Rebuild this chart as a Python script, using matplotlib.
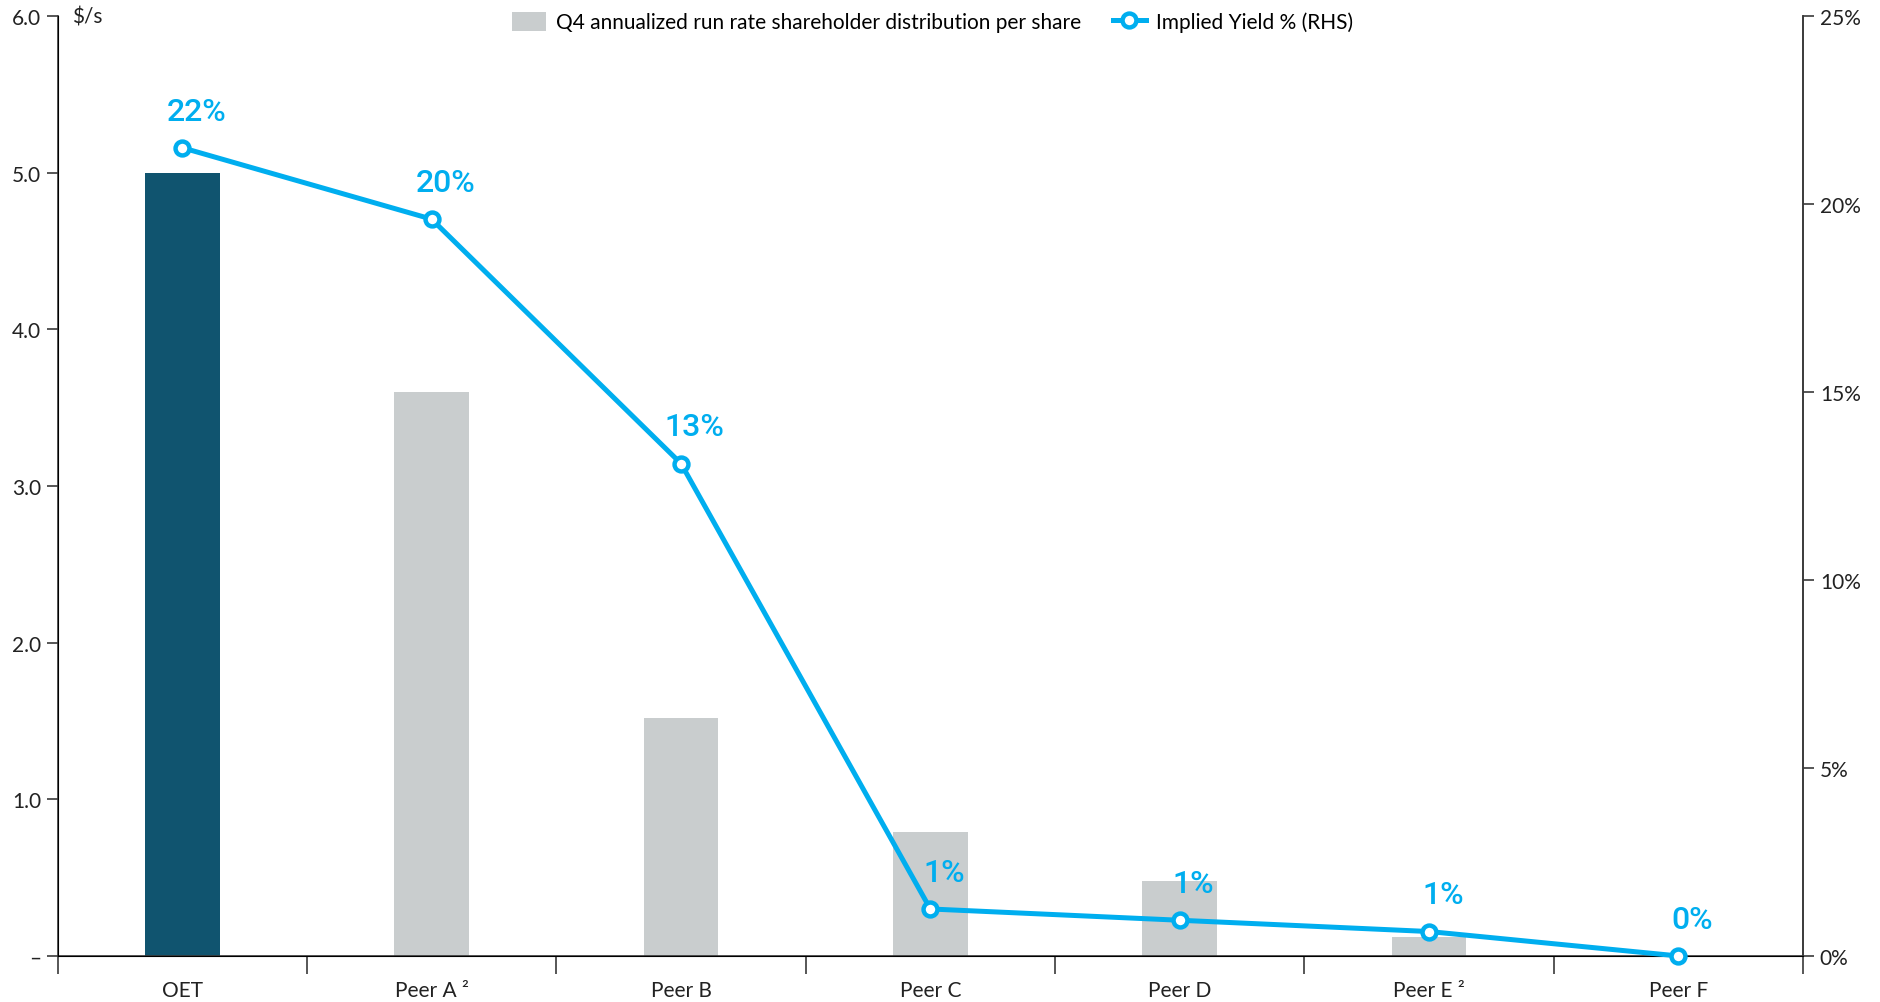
import numpy as np
import matplotlib.pyplot as plt
from matplotlib.lines import Line2D
from matplotlib.patches import Patch

categories = ['OET', 'Peer A ²', 'Peer B', 'Peer C', 'Peer D', 'Peer E ²', 'Peer F']
distribution = [5.0, 3.6, 1.52, 0.79, 0.48, 0.12, 0.0]
yield_pct = [21.5, 19.6, 13.1, 1.25, 0.95, 0.65, 0.0]
yield_labels = ['22%', '20%', '13%', '1%', '1%', '1%', '0%']

plt.rcParams['font.family'] = ['Lato', 'DejaVu Sans']

dark = '#10546f'
grey = '#c9cdce'
blue = '#00aeef'
axis_col = '#3a3a3a'

fig = plt.figure(figsize=(18.81, 10.03), dpi=100)
ax = fig.add_axes([0.0306, 0.0459, 0.928, 0.937])

x = np.arange(len(categories))
colors = [dark] + [grey] * (len(categories) - 1)
ax.bar(x, distribution, 0.3, color=colors, zorder=2)

ax.set_xlim(-0.5, len(categories) - 0.5)
ax.set_ylim(0, 6)
ax.set_yticks(np.arange(0, 6.1, 1.0))
ax.set_yticklabels(['–'] + ['%.1f' % v for v in np.arange(1, 6.1, 1.0)])
ax.set_xticks(x)
ax.set_xticklabels(categories, fontsize=15, color='#222222')
ax.set_xticks(np.arange(-0.5, len(categories)), minor=True)
ax.tick_params(axis='x', which='major', length=0, pad=17)
ax.tick_params(axis='x', which='minor', length=13, width=1.2, color=axis_col, direction='out')
ax.tick_params(axis='y', length=8, width=1.2, color=axis_col, labelsize=15, labelcolor='#222222', pad=4)
ax.spines['top'].set_visible(False)
for s in ['left', 'bottom', 'right']:
    ax.spines[s].set_color(axis_col)
    ax.spines[s].set_linewidth(1.2)
ax.text(0.008, 6.0, '$/s', fontsize=15, color='#222222', va='center', ha='left',
        transform=ax.get_yaxis_transform())

ax2 = ax.twinx()
ax2.set_ylim(0, 25)
ax2.set_yticks(np.arange(0, 26, 5))
ax2.set_yticklabels(['%d%%' % v for v in np.arange(0, 26, 5)])
ax2.tick_params(axis='y', length=8, width=1.2, color=axis_col, labelsize=15, labelcolor='#222222', pad=4)
ax2.spines['top'].set_visible(False)
ax2.spines['right'].set_color(axis_col)
ax2.spines['right'].set_linewidth(1.2)
ax2.plot(x, yield_pct, color=blue, lw=3.6, marker='o', ms=10, mfc='white', mec=blue,
         mew=3.2, zorder=3, clip_on=False)

for xi, yi, lab in zip(x, yield_pct, yield_labels):
    ax2.annotate(lab, (xi, yi), xytext=(10, 16), textcoords='offset points',
                 ha='center', va='bottom', fontsize=23, color=blue, fontweight='medium',
                 family=['Roboto', 'DejaVu Sans'])

handles = [Patch(facecolor=grey, edgecolor='none'),
           Line2D([], [], color=blue, lw=3.6, marker='o', ms=10, mfc='white', mec=blue, mew=3.2)]
fig.legend(handles, ['Q4 annualized run rate shareholder distribution per share', 'Implied Yield % (RHS)'],
           loc='upper center', bbox_to_anchor=(0.496, 1.006), ncol=2, frameon=False, fontsize=15,
           handlelength=1.6, handleheight=1.0, columnspacing=1.5, handletextpad=0.5)

fig.savefig('out.png', dpi=100)
